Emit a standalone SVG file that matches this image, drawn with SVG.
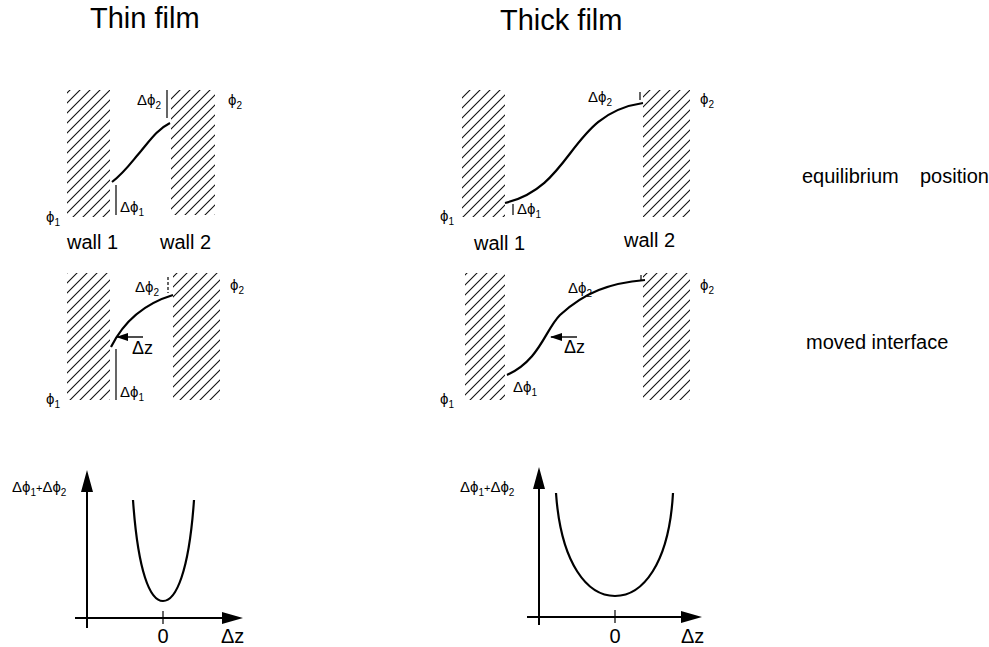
<svg xmlns="http://www.w3.org/2000/svg" width="989" height="647" viewBox="0 0 989 647">
<style>
text{font-family:"Liberation Sans",Arial,sans-serif;fill:#000}
.title{font-size:29px}
.lbl{font-size:20px}
.d{font-size:15px}
.dz{font-size:18px}
.sub{font-size:10px}
.wall{fill:url(#hatch)}
.curve{fill:none;stroke:#000;stroke-width:2.2}
.ln{fill:none;stroke:#000;stroke-width:1.2}
.axis{fill:none;stroke:#000;stroke-width:2}
.head{fill:#000;stroke:none}
.ax{fill:none;stroke:#000;stroke-width:1.4;marker-end:url(#sa)}
</style>
<defs>
<pattern id="hatch" width="10" height="10" patternUnits="userSpaceOnUse">
<path d="M0,10 L10,0 M-2,2 L2,-2 M8,12 L12,8" stroke="#111" stroke-width="1.1"/>
</pattern>
<marker id="sa" viewBox="0 0 12 8" refX="11" refY="4" markerWidth="12" markerHeight="8" orient="auto" markerUnits="userSpaceOnUse">
<path d="M0,0 L12,4 L0,8 Z" fill="#000"/>
</marker>
</defs>

<g id="titles">
<text class="title" x="90" y="28">Thin film</text>
<text class="title" x="500" y="30">Thick film</text>
</g>

<g id="row-labels">
<text class="lbl" x="802" y="183">equilibrium</text>
<text class="lbl" x="920" y="183">position</text>
<text class="lbl" x="806" y="349">moved interface</text>
</g>

<!-- Thin film, equilibrium -->
<g id="thin-eq">
<rect class="wall" x="67" y="90" width="43" height="127"/>
<rect class="wall" x="171" y="90" width="44" height="125"/>
<path class="curve" d="M112,182 C125,172 133,160 141,151 C151,139 158,129 170,123"/>
<path class="ln" d="M167,90 V118 M116,185 V215"/>
<text class="d" x="137" y="105">Δϕ<tspan class="sub" dy="4">2</tspan></text>
<text class="d" x="120" y="212">Δϕ<tspan class="sub" dy="4">1</tspan></text>
<text class="d" x="228" y="105">ϕ<tspan class="sub" dy="4">2</tspan></text>
<text class="d" x="46" y="222">ϕ<tspan class="sub" dy="4">1</tspan></text>
<text class="lbl" x="67" y="249">wall 1</text>
<text class="lbl" x="160" y="249">wall 2</text>
</g>

<!-- Thick film, equilibrium -->
<g id="thick-eq">
<rect class="wall" x="462" y="90" width="43" height="127"/>
<rect class="wall" x="643" y="90" width="47" height="127"/>
<path class="curve" d="M505,203 C575,186 568,114 643,103"/>
<path class="ln" d="M640,92 V100 M513,204 V215"/>
<text class="d" x="588" y="102">Δϕ<tspan class="sub" dy="4">2</tspan></text>
<text class="d" x="517" y="214">Δϕ<tspan class="sub" dy="4">1</tspan></text>
<text class="d" x="700" y="104">ϕ<tspan class="sub" dy="4">2</tspan></text>
<text class="d" x="440" y="221">ϕ<tspan class="sub" dy="4">1</tspan></text>
<text class="lbl" x="474" y="250">wall 1</text>
<text class="lbl" x="624" y="247">wall 2</text>
</g>

<!-- Thin film, moved interface -->
<g id="thin-moved">
<rect class="wall" x="67" y="273" width="43" height="127"/>
<rect class="wall" x="173" y="273" width="47" height="127"/>
<path class="curve" d="M111,347 C122,325 140,305 173,295"/>
<path class="ln" d="M168,277 V293" stroke-dasharray="3,2"/>
<path class="ln" d="M116,349 V400"/>
<path class="ax" d="M143,337 H117"/>
<text class="d" x="135" y="292">Δϕ<tspan class="sub" dy="4">2</tspan></text>
<text class="dz" x="132" y="354">Δz</text>
<text class="d" x="120" y="397">Δϕ<tspan class="sub" dy="4">1</tspan></text>
<text class="d" x="230" y="290">ϕ<tspan class="sub" dy="4">2</tspan></text>
<text class="d" x="46" y="404">ϕ<tspan class="sub" dy="4">1</tspan></text>
</g>

<!-- Thick film, moved interface -->
<g id="thick-moved">
<rect class="wall" x="465" y="273" width="40" height="127"/>
<rect class="wall" x="643" y="273" width="47" height="127"/>
<path class="curve" d="M507,375 C540,360 545,330 560,315 C585,292 610,283 645,280"/>
<path class="ln" d="M641,275 V281"/>
<path class="ax" d="M577,337 H551"/>
<text class="d" x="568" y="293">Δϕ<tspan class="sub" dy="4">2</tspan></text>
<text class="dz" x="564" y="353">Δz</text>
<text class="d" x="513" y="392">Δϕ<tspan class="sub" dy="4">1</tspan></text>
<text class="d" x="700" y="290">ϕ<tspan class="sub" dy="4">2</tspan></text>
<text class="d" x="440" y="404">ϕ<tspan class="sub" dy="4">1</tspan></text>
</g>

<!-- Thin film, energy plot -->
<g id="thin-plot">
<path class="axis" d="M87,628 V488 M75,618 H226"/>
<path class="head" d="M87,470 L93,492 L81,492 Z M243,618 L222,612 L222,624 Z"/>
<path class="curve" d="M133,500 C138,572 150,601 163,601 C176,601 189,572 194,500" stroke-width="1.8"/>
<path class="ln" d="M163,611 V624" stroke-width="1.6"/>
<text class="d" x="12" y="492">Δϕ<tspan class="sub" dy="4">1</tspan><tspan dy="-4" font-size="11">+</tspan>Δϕ<tspan class="sub" dy="4">2</tspan></text>
<text class="lbl" x="163" y="643" text-anchor="middle">0</text>
<text class="lbl" x="221" y="643">Δz</text>
</g>

<!-- Thick film, energy plot -->
<g id="thick-plot">
<path class="axis" d="M539,625 V485 M527,617 H685"/>
<path class="head" d="M539,467 L545,489 L533,489 Z M702,617 L681,611 L681,623 Z"/>
<path class="curve" d="M556,493 C561,565 588,596 615,596 C642,596 669,565 673,493" stroke-width="1.8"/>
<path class="ln" d="M615,610 V623" stroke-width="1.6"/>
<text class="d" x="460" y="492">Δϕ<tspan class="sub" dy="4">1</tspan><tspan dy="-4" font-size="11">+</tspan>Δϕ<tspan class="sub" dy="4">2</tspan></text>
<text class="lbl" x="615" y="643" text-anchor="middle">0</text>
<text class="lbl" x="681" y="643">Δz</text>
</g>
</svg>
